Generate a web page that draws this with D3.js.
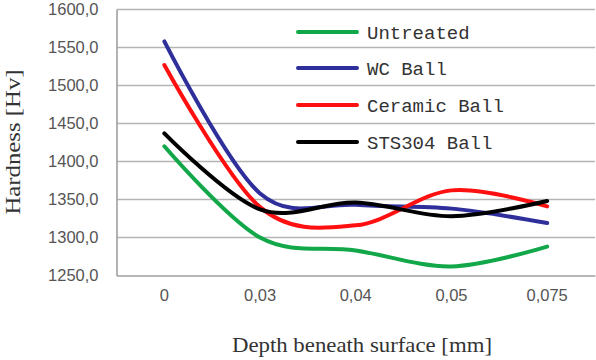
<!DOCTYPE html>
<html><head><meta charset="utf-8">
<script src="https://cdn.jsdelivr.net/npm/d3@7"></script>
<style>body{margin:0;background:#fff}svg{display:block}</style>
</head><body>
<svg id="c" width="596" height="360"></svg>
<script>
const categories = ["0", "0,03", "0,04", "0,05", "0,075"];
const yTicks = [1250, 1300, 1350, 1400, 1450, 1500, 1550, 1600];
const seriesNames = ["Untreated", "WC Ball", "Ceramic Ball", "STS304 Ball"];
const seriesColors = ["#12a84a", "#2f2f9c", "#ff1010", "#000000"];
const untreated = [1420, 1300, 1283, 1262, 1288];
const wcBall = [1558, 1358, 1343, 1338, 1319];
const ceramicBall = [1527, 1340, 1316, 1362, 1341];
const sts304Ball = [1437, 1337, 1346, 1328, 1348];
const seriesValues = [untreated, wcBall, ceramicBall, sts304Ball];

const svg = d3.select("#c");
const L = 116.5, R = 595, T = 9.5, B = 275.5;
const x = d3.scaleBand().domain(categories).range([L, R]);
const y = d3.scaleLinear().domain([1250, 1600]).range([B, T]);
const fmt = v => d3.format(".1f")(v).replace(".", ",");

// gridlines
svg.append("g").selectAll("line").data(yTicks.slice(1)).join("line")
  .attr("x1", L).attr("x2", R).attr("y1", d => y(d)).attr("y2", d => y(d))
  .attr("stroke", "#b4b4b4").attr("stroke-width", 1.6);

// axes
const ya = svg.append("g").attr("transform", `translate(${L},0)`)
  .call(d3.axisLeft(y).tickValues(yTicks).tickFormat(fmt).tickSize(0).tickPadding(18));
ya.select(".domain").attr("stroke", "#a0a0a0").attr("stroke-width", 1.6);
ya.selectAll("text").attr("font-family", "Liberation Sans, Arial, sans-serif")
  .attr("font-size", 16.5).attr("fill", "#555");

const xa = svg.append("g").attr("transform", `translate(0,${B})`)
  .call(d3.axisBottom(x).tickSize(0).tickPadding(14));
xa.select(".domain").attr("stroke", "#a0a0a0").attr("stroke-width", 1.6);
xa.selectAll("text").attr("font-family", "Liberation Sans, Arial, sans-serif")
  .attr("font-size", 16.5).attr("fill", "#555");

// lines
const line = d3.line().x((d, i) => x(categories[i]) + x.bandwidth() / 2).y(d => y(d))
  .curve(d3.curveCardinal.tension(0));
svg.append("g").selectAll("path").data(seriesValues).join("path")
  .attr("d", d => line(d)).attr("fill", "none")
  .attr("stroke", (d, i) => seriesColors[i]).attr("stroke-width", 4)
  .attr("stroke-linecap", "round");

// legend
const legY = [32, 68, 105, 142];
const lg = svg.append("g");
seriesNames.forEach((n, i) => {
  lg.append("line").attr("x1", 298).attr("x2", 357).attr("y1", legY[i]).attr("y2", legY[i])
    .attr("stroke", seriesColors[i]).attr("stroke-width", 4).attr("stroke-linecap", "round");
  lg.append("text").attr("x", 367).attr("y", legY[i]).attr("dy", "0.35em")
    .attr("font-family", "Liberation Mono, Courier New, monospace").attr("font-size", 19)
    .attr("fill", "#333").text(n);
});

// titles
svg.append("text").attr("transform", "translate(20,142) rotate(-90)")
  .attr("text-anchor", "middle").attr("font-family", "Liberation Serif, Times New Roman, serif")
  .attr("font-size", 21).attr("fill", "#333")
  .attr("textLength", 145).attr("lengthAdjust", "spacingAndGlyphs").text("Hardness [Hv]");
svg.append("text").attr("x", 362).attr("y", 352)
  .attr("text-anchor", "middle").attr("font-family", "Liberation Serif, Times New Roman, serif")
  .attr("font-size", 21).attr("fill", "#333")
  .attr("textLength", 260).attr("lengthAdjust", "spacingAndGlyphs").text("Depth beneath surface [mm]");
</script>
</body></html>
